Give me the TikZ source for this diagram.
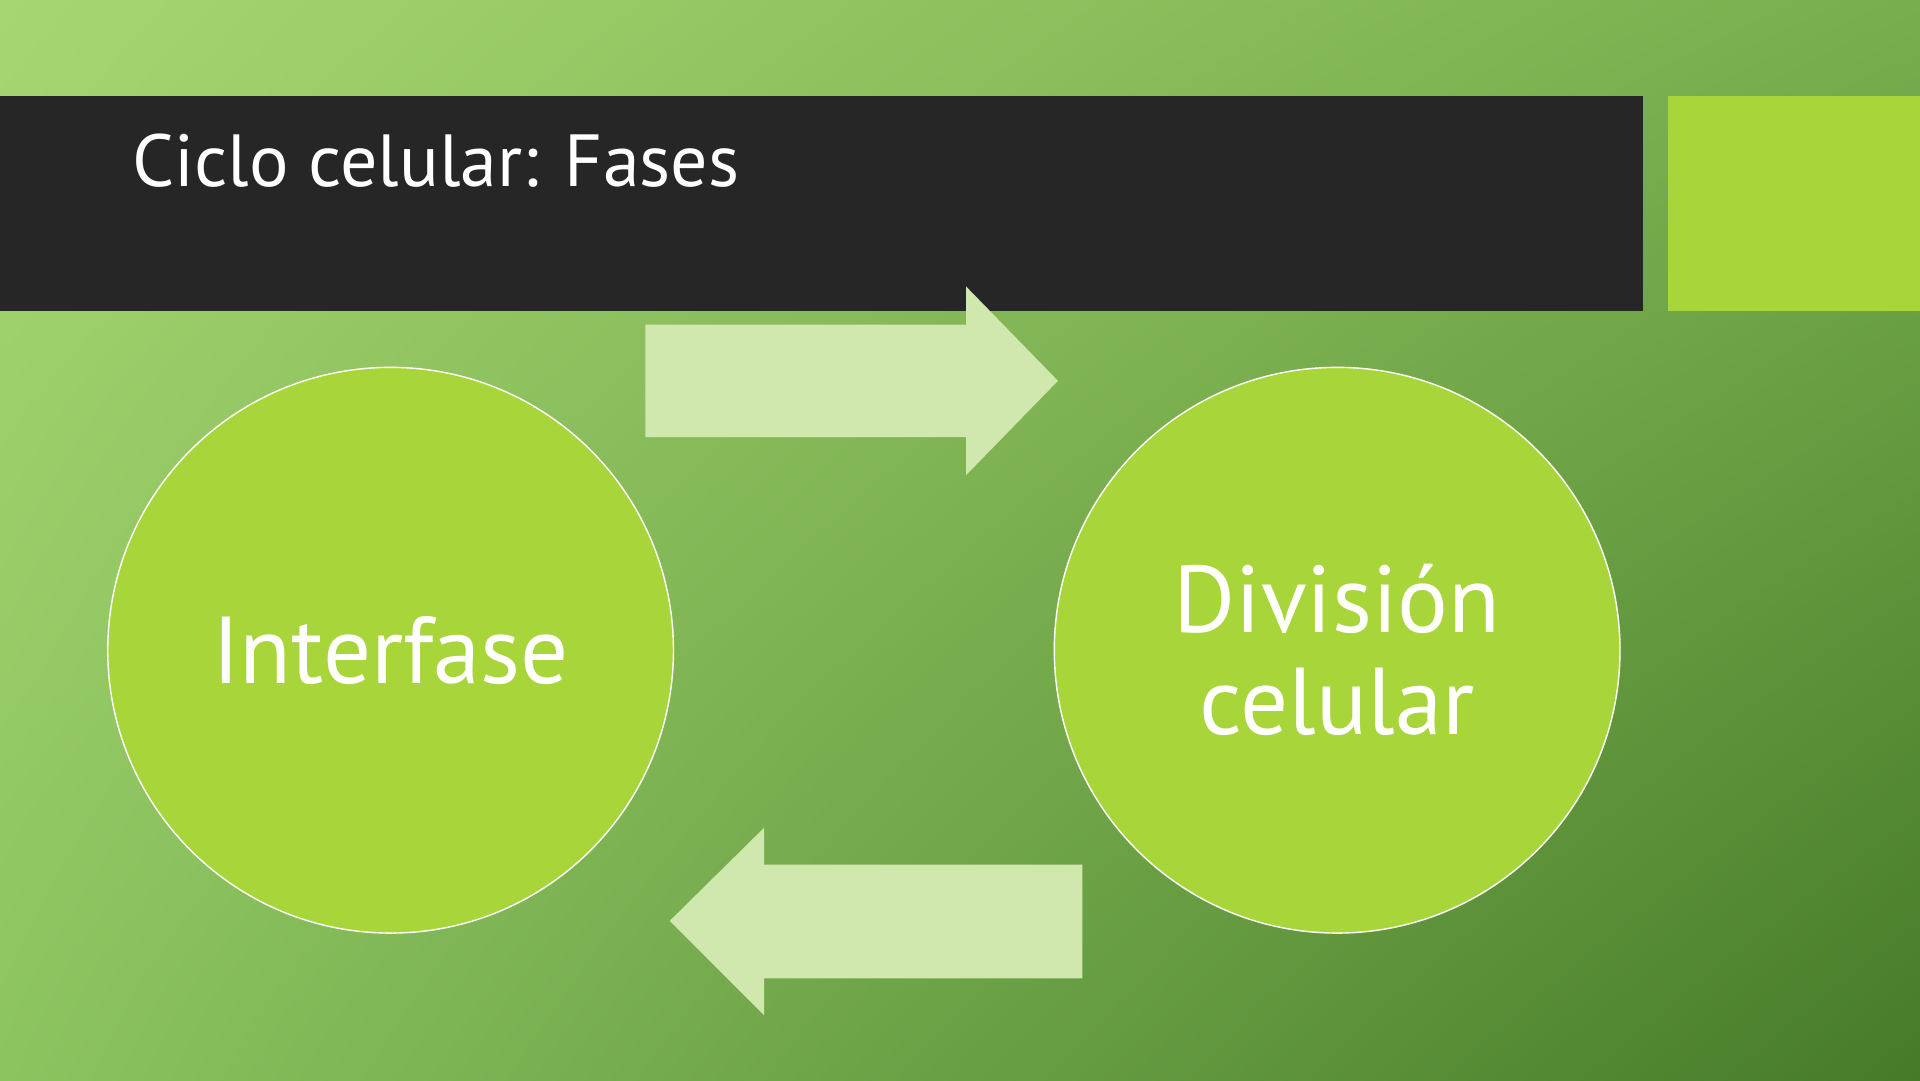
\documentclass[tikz,border=0pt]{standalone}
\usepackage{fontspec}
\setmainfont{PT Sans}
\usetikzlibrary{shadings}
\definecolor{lime}{HTML}{A8D63A}
\definecolor{pale}{HTML}{D0E8AE}
\definecolor{bar}{HTML}{262626}
\definecolor{bgtl}{HTML}{A6D670}
\definecolor{bgtr}{HTML}{78AE4E}
\definecolor{bgbl}{HTML}{8CC460}
\definecolor{bgbr}{HTML}{467A28}
\tikzset{
  phase/.style={circle, draw=white, fill=lime, minimum size=462*0.012245cm,
    text=white, font=\fontsize{27}{29}\selectfont, align=center, inner sep=0pt},
  flow/.style={fill=pale, draw=none}
}
\begin{document}
\begin{tikzpicture}[x=0.012245cm, y=-0.012245cm]

% background and header
\shade[upper left=bgtl, upper right=bgtr, lower left=bgbl, lower right=bgbr] (0,0) rectangle (1568,882);
\useasboundingbox (0,0) rectangle (1568,882);
\fill[bar] (0,78) rectangle (1342,254);
\fill[lime] (1362,78) rectangle (1568,254);
\node[anchor=base west, text=white, font=\fontsize{21}{23}\selectfont] (title) at (98,152) {Ciclo celular: Fases};

% phases
\node[phase] (inter) at (319,531) {Interfase};
\node[phase] (div) at (1092,531) {División\\celular};

% arrows
\fill[flow] (527,265) -- (789,265) -- (789,234) -- (864,311) -- (789,388) -- (789,357) -- (527,357) -- cycle;
\fill[flow] (884,706) -- (624,706) -- (624,676) -- (547,752) -- (624,829) -- (624,799) -- (884,799) -- cycle;

\end{tikzpicture}
\end{document}
